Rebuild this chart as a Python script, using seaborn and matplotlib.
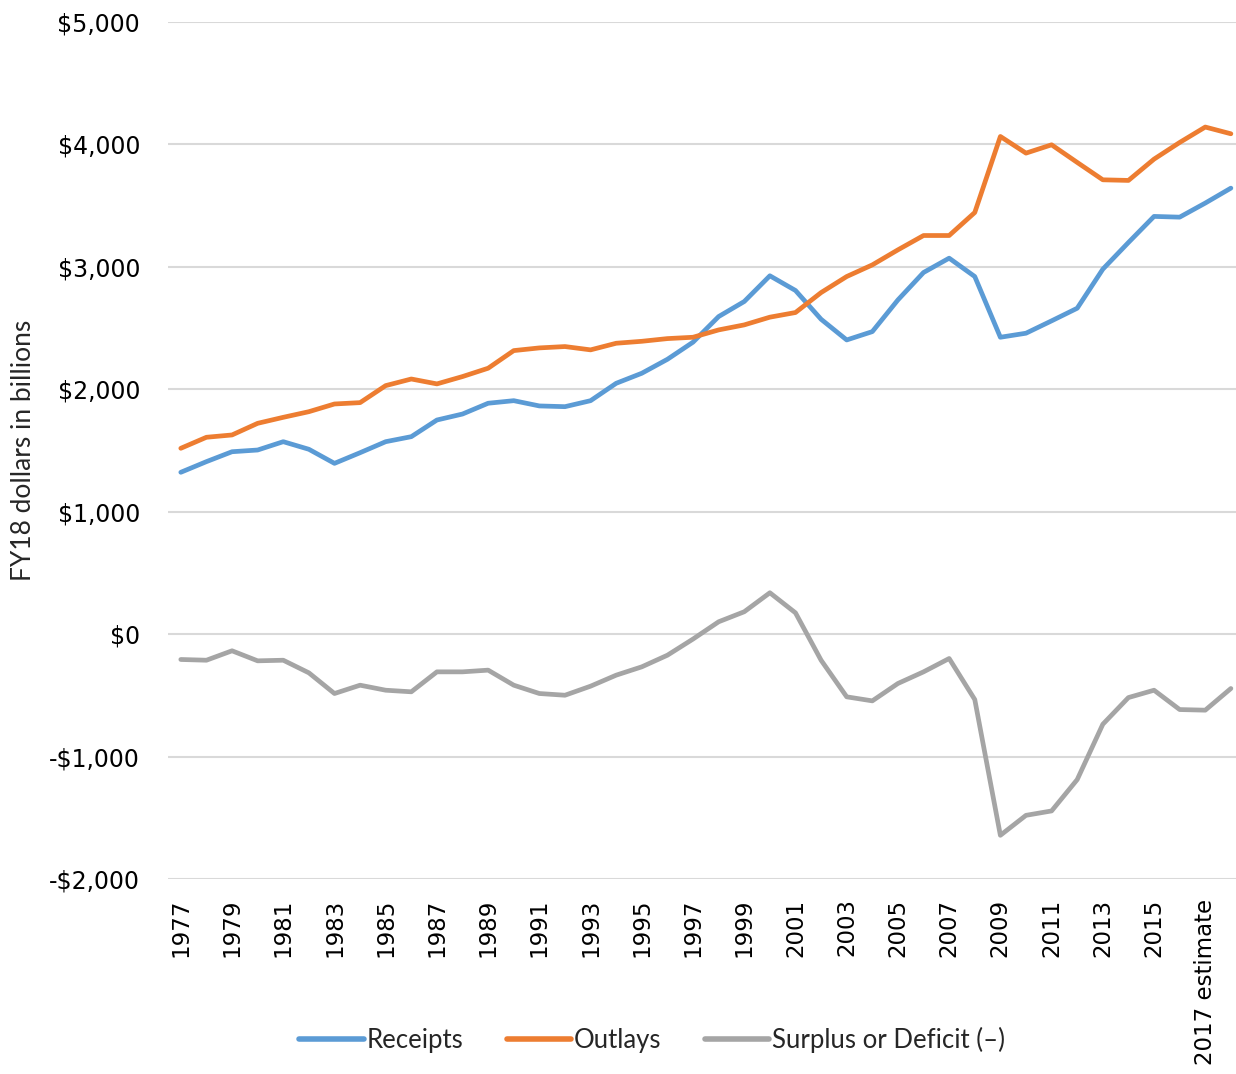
import matplotlib
matplotlib.use("Agg")
import matplotlib.pyplot as plt
import numpy as np
import pandas as pd
import seaborn as sns
from matplotlib.ticker import FuncFormatter

# Data (FY18 dollars, billions)
years = list(range(1977, 2019))
receipts = [1322, 1409, 1490, 1504, 1572, 1510, 1395, 1482, 1572, 1613,
            1749, 1798, 1886, 1907, 1864, 1858, 1907, 2049, 2131, 2245,
            2385, 2594, 2717, 2927, 2807, 2572, 2403, 2471, 2730, 2954,
            3071, 2921, 2425, 2458, 2559, 2662, 2981, 3199, 3412, 3406,
            3521, 3643]
outlays = [1518, 1608, 1627, 1722, 1771, 1817, 1880, 1891, 2030, 2084,
           2044, 2104, 2172, 2316, 2338, 2349, 2322, 2376, 2392, 2414,
           2425, 2485, 2526, 2589, 2627, 2790, 2921, 3016, 3139, 3256,
           3256, 3444, 4065, 3929, 3997, 3853, 3711, 3706, 3880, 4016,
           4142, 4087]
surplus = [-207, -213, -136, -218, -213, -316, -485, -417, -458, -471,
           -308, -308, -294, -417, -485, -499, -425, -335, -267, -172,
           -40, 101, 183, 338, 174, -213, -512, -545, -403, -308,
           -199, -534, -1643, -1480, -1444, -1188, -736, -518, -458, -616,
           -621, -444]
series_names = ["Receipts", "Outlays", "Surplus or Deficit (\u2013)"]
colors = ["#5B9BD5", "#ED7D31", "#A5A5A5"]
tick_labels = [str(y) if y != 2017 else "2017 estimate" for y in years]

df = pd.DataFrame({"idx": np.arange(len(years)),
                   series_names[0]: receipts,
                   series_names[1]: outlays,
                   series_names[2]: surplus})
long = df.melt(id_vars="idx", var_name="series", value_name="value")

sns.set_style("white")
plt.rcParams['font.family'] = ['DejaVu Sans']
narrow = ["Lato", "DejaVu Sans"]

fig = plt.figure(figsize=(12.36, 10.74), dpi=100)
ax = fig.add_axes([168 / 1236, 1 - 879 / 1074, 1 - 168 / 1236, (879 - 22) / 1074])

sns.lineplot(data=long, x="idx", y="value", hue="series", hue_order=series_names,
             palette=colors, linewidth=3.4, ax=ax, legend=False)

ax.set_ylim(-2000, 5000)
ax.set_yticks(np.arange(-2000, 5001, 1000))
ax.yaxis.set_major_formatter(FuncFormatter(
    lambda v, p: ("-$" if v < 0 else "$") + f"{abs(int(v)):,}"))
ax.set_xlim(-0.5, 41.2)
ax.set_xticks(np.arange(0, len(years), 2))
ax.set_xticklabels([tick_labels[i] for i in range(0, len(years), 2)], rotation=90)
ax.tick_params(axis="both", length=0, colors="black")
ax.tick_params(axis="x", labelsize=16.5, pad=14)
ax.tick_params(axis="y", labelsize=17, pad=20)
ax.grid(axis="y", color="#D9D9D9", linewidth=1.5)
ax.set_axisbelow(True)
for s in ax.spines.values():
    s.set_visible(False)
ax.set_xlabel("")
ax.set_ylabel("FY18 dollars in billions", fontsize=19, family=narrow)
ax.yaxis.set_label_coords(-(168 - 36) / 1068, 0.5)

handles = [plt.Line2D([], [], color=c, linewidth=4) for c in colors]
fig.legend(handles, series_names, loc="center", bbox_to_anchor=(652 / 1236, 1 - 1040 / 1074),
           ncol=3, frameon=False, handlelength=2.5, handletextpad=0.1, columnspacing=1.7,
           prop={"family": narrow, "size": 18.5})

fig.savefig("out.png", dpi=100)
